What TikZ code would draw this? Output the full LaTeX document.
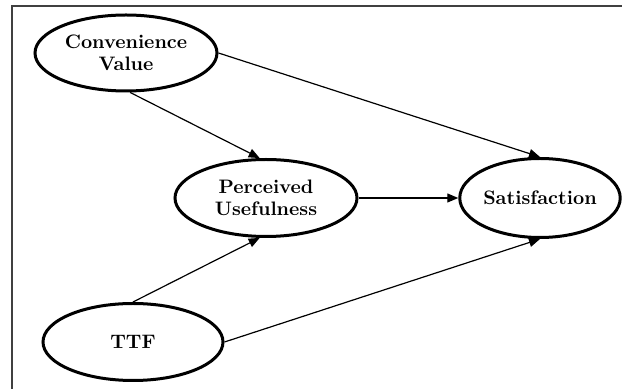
\documentclass[tikz,border=0pt]{standalone}
\usetikzlibrary{shapes.geometric,arrows.meta}
\begin{document}
\begin{tikzpicture}[x=0.5pt,y=-0.5pt,
  construct/.style={ellipse,draw,line width=1.5pt,inner sep=0pt,
    font=\fontsize{9.75}{11}\selectfont\bfseries,align=center},
  link/.style={line width=0.6pt,-{Triangle[length=5.5pt,width=4.5pt]}},
  frameline/.style={line width=0.8pt,draw=black!75}]
\useasboundingbox (0,0) rectangle (622,389);
\coordinate (fl) at (12,389);
\coordinate (fc) at (12,6);
\coordinate (fr) at (622,6);
\draw[frameline] (fl) -- (fc) -- (fr);
\node[construct,minimum width=91pt,minimum height=38pt] (cv) at (126,53) {Convenience\\Value};
\node[construct,minimum width=91pt,minimum height=38.5pt] (pu) at (266,198) {Perceived\\Usefulness};
\node[construct,minimum width=76.5pt,minimum height=39.5pt] (sat) at (540,198) {Satisfaction};
\node[construct,minimum width=90pt,minimum height=38.5pt] (ttf) at (133,342) {TTF};
\draw[link] (cv.-84) -- (pu.99);
\draw[link] (cv.east) -- (sat.north);
\draw[link] (pu.east) -- (sat.west);
\draw[link] (ttf.north) -- (pu.-99);
\draw[link] (ttf.east) -- (sat.south);
\end{tikzpicture}
\end{document}
